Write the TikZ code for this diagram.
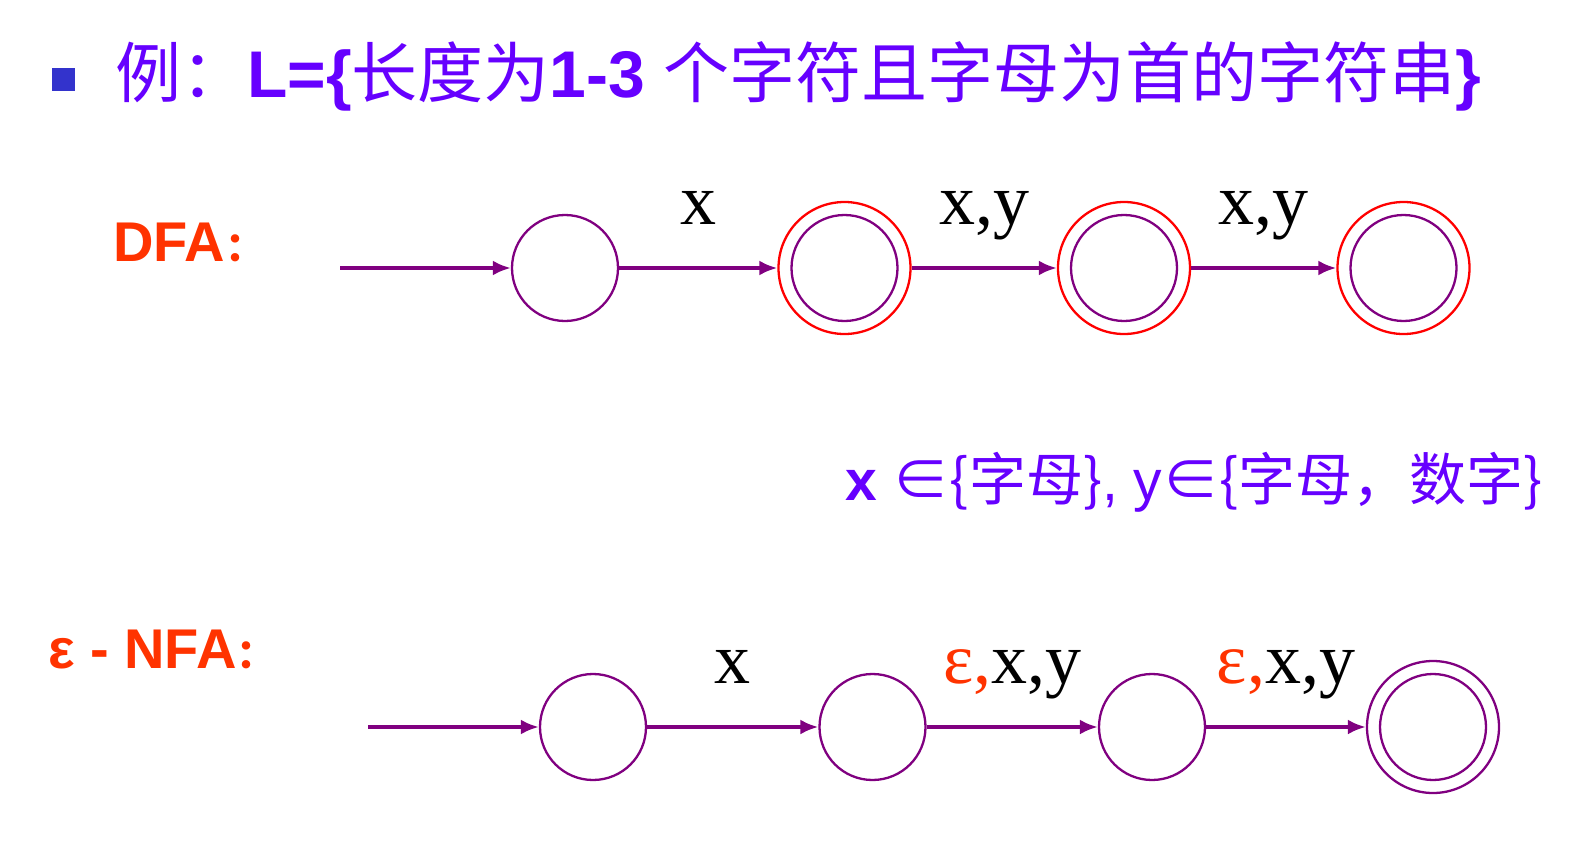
\documentclass[tikz,border=0pt]{standalone}
\usepackage{fontspec}
\setmainfont{Liberation Serif}
\newfontfamily\arial{Liberation Sans}
\newfontfamily\cjk{Noto Sans CJK SC}
\usetikzlibrary{positioning,arrows.meta,automata}
\definecolor{titleviolet}{RGB}{102,0,255}
\definecolor{headred}{RGB}{255,51,0}
\definecolor{edgepurple}{RGB}{128,0,128}
\definecolor{bulletblue}{RGB}{51,51,204}
\tikzset{
  ring/.style  = {circle, draw=#1, line width=2.3pt, minimum size=132pt, inner sep=0pt},
  post/.style  = {-{Latex[length=18pt,width=15pt]}, draw=edgepurple, line width=3.5pt},
  lbl/.style   = {font=\fontsize{72}{72}\selectfont, anchor=base, inner sep=0pt,
                  yshift=44pt, text=black},
  head/.style  = {font=\arial\bfseries\fontsize{56}{56}\selectfont, text=headred,
                  anchor=base west, inner sep=0pt},
  plain/.style = {anchor=base west, inner sep=0pt, text=titleviolet}
}
\begin{document}
\begin{tikzpicture}[x=1pt,y=-1pt,node distance=279.5pt,on grid]
  \tikzstyle{every state}=[draw=edgepurple,line width=2.3pt,minimum size=106pt,inner sep=0pt]
  \useasboundingbox (0,0) rectangle (1590,862);
  % title
  \node[fill=bulletblue, minimum size=23pt, inner sep=0pt] (bullet) at (63.5,79) {};
  \node[plain, font=\fontsize{66}{66}\selectfont] (title) at (115,97)
    {{\cjk 例：}{\arial\bfseries L=\{}{\cjk 长度为}{\arial\bfseries 1-3 }{\cjk 个字符且字母为首的字符串}{\arial\bfseries \}}};
  % DFA
  \node[head] (dfa) at (113,261) {DFA{\cjk\fontsize{40}{40}\selectfont ：}};
  \coordinate (ds) at (340,268);
  \node[state] (d0) at (565,268) {};
  \node[ring=red] (d1) [right=of d0] {};
  \node[state] (d1i) at (d1) {};
  \node[ring=red] (d2) [right=of d1] {};
  \node[state] (d2i) at (d2) {};
  \node[ring=red] (d3) [right=of d2] {};
  \node[state] (d3i) at (d3) {};
  \draw[post] (ds) -- (d0);
  \draw[post] (d0) -- node[lbl]{x} (d1);
  \draw[post] (d1) -- node[lbl]{x,y} (d2);
  \draw[post] (d2) -- node[lbl]{x,y} (d3);
  % note
  \node[plain, font=\fontsize{57}{57}\selectfont] (note) at (845,500)
    {{\arial\bfseries x }{\cjk ∈\{字母\}}{\arial , y}{\cjk ∈\{字母，数字\}}};
  % e-NFA
  \node[head] (nfa) at (48,668) {ε - NFA{\cjk\fontsize{40}{40}\selectfont ：}};
  \coordinate (ns) at (368,727);
  \node[state] (n0) at (593,727) {};
  \node[state] (n1) [right=of n0] {};
  \node[state] (n2) [right=of n1] {};
  \node[ring=edgepurple] (n3) [right=281pt of n2] {};
  \node[state] (n3i) at (n3) {};
  \draw[post] (ns) -- (n0);
  \draw[post] (n0) -- node[lbl]{x} (n1);
  \draw[post] (n1) -- node[lbl]{\textcolor{headred}{ε,}x,y} (n2);
  \draw[post] (n2) -- node[lbl]{\textcolor{headred}{ε,}x,y} (n3);
\end{tikzpicture}
\end{document}
